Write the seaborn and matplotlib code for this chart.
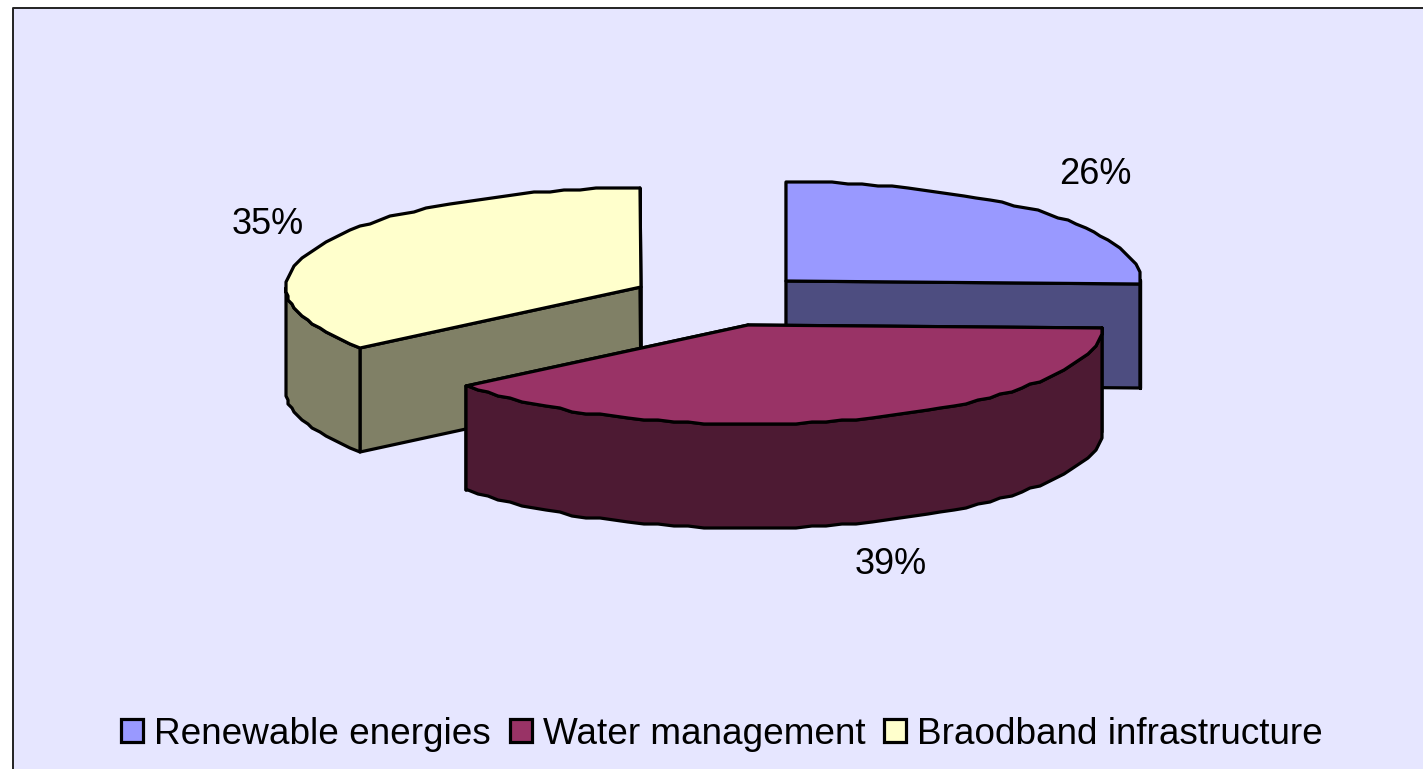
import numpy as np
import matplotlib.pyplot as plt
import seaborn as sns
from matplotlib.colors import to_rgb
from matplotlib.patches import Patch

categories = ["Renewable energies", "Water management", "Braodband infrastructure"]
shares = [25.6, 39.0, 35.4]

top_colors = ["#9999FF", "#993366", "#FFFFCC"]
slice_centers = [(786, 281), (748, 325), (641, 287)]
label_spots = [(1095, 174), (891, 564), (268, 224)]

RX, RY, DEPTH = 355, 99, 104
LW = 2.3

sns.set_theme(style="white")
plt.rcParams["font.family"] = ["Liberation Sans", "DejaVu Sans"]

fig = plt.figure(figsize=(14.23, 7.69), dpi=100, facecolor="white")
ax = fig.add_axes([0, 0, 1, 1])
ax.set_xlim(0, 1423)
ax.set_ylim(769, 0)
ax.set_axis_off()

# fondo y marco (solo izquierda y arriba, el resto queda cortado)
ax.fill([13, 1423, 1423, 13], [8, 8, 769, 769], color="#E6E6FF", lw=0, zorder=0)
ax.plot([13, 13, 1423], [769, 8, 8], color="#222222", lw=1.4, zorder=1)


def arc(cx, cy, a0, a1):
    # angulos en grados, desde arriba y en sentido horario; puntos redondeados para el borde dentado
    t = np.radians(np.arange(a0, a1, 2.5).tolist() + [a1])
    x = np.round((cx + RX * np.sin(t)) / 2) * 2
    y = np.round((cy - RY * np.cos(t)) / 2) * 2
    return x, y


def face(xs, ys, color, z):
    ax.fill(xs, ys, facecolor=color, edgecolor="black", lw=LW, joinstyle="round", zorder=z)


# ocultas primero: azul, amarillo, y al final el vino que va delante
order = [0, 2, 1]
ends = np.cumsum(shares) / np.sum(shares) * 360
starts = np.concatenate([[0], ends[:-1]])

for z, i in enumerate(order):
    cx, cy = slice_centers[i]
    a0, a1 = starts[i], ends[i]
    side = tuple(np.array(to_rgb(top_colors[i])) * 0.5)
    base = 10 + z * 10

    # caras del corte
    for a in (a0, a1):
        ex, ey = arc(cx, cy, a, a)
        ex, ey = ex[-1], ey[-1]
        face([cx, ex, ex, cx], [cy, ey, ey + DEPTH, cy + DEPTH], side, base)

    # pared exterior, solo la parte que mira al frente
    w0, w1 = max(a0, 90), min(a1, 270)
    if w1 > w0:
        x, y = arc(cx, cy, w0, w1)
        face(np.r_[x, x[::-1]], np.r_[y, y[::-1] + DEPTH], side, base + 1)

    # tapa
    x, y = arc(cx, cy, a0, a1)
    face(np.r_[cx, x], np.r_[cy, y], top_colors[i], base + 2)

    lx, ly = label_spots[i]
    ax.text(lx, ly, f"{shares[i]:.0f}%", fontsize=26, color="black", ha="center", va="center", zorder=60)

handles = [Patch(facecolor=c, edgecolor="black", lw=LW, label=n) for c, n in zip(top_colors, categories)]
ax.legend(handles=handles, ncol=3, loc="center", bbox_to_anchor=(722, 734), bbox_transform=ax.transData,
          frameon=False, fontsize=26.6, labelcolor="black", handlelength=0.6, handleheight=0.6,
          handletextpad=0.3, columnspacing=0.5, borderpad=0, borderaxespad=0)

fig.savefig("out.png", dpi=100)
